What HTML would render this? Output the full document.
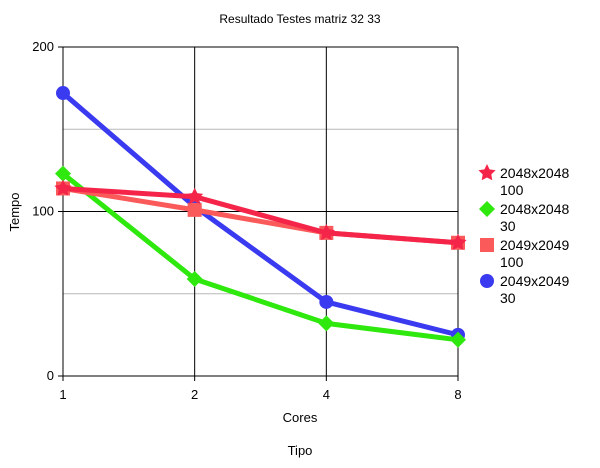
<!DOCTYPE html>
<html><head><meta charset="utf-8"><style>
body{margin:0;background:#fff;font-family:"Liberation Sans",Arial,sans-serif}
svg text{font-family:"Liberation Sans",Arial,sans-serif}
</style></head><body>
<svg id="c" width="600" height="463" xmlns="http://www.w3.org/2000/svg">
<rect width="600" height="463" fill="#fff"/>
<text x="300" y="23" font-size="12" text-anchor="middle">Resultado Testes matriz 32 33</text>
<text x="300" y="422" font-size="13" text-anchor="middle">Cores</text>
<text x="300" y="455" font-size="13" text-anchor="middle">Tipo</text>
<text x="19" y="212" font-size="13" text-anchor="middle" transform="rotate(-90 19 212)">Tempo</text>
<g id="grid"></g><g id="series"></g><g id="legend"></g>
</svg>
<script>
const categories=["1","2","4","8"];
const yTicks=[0,100,200];
const yMinor=[50,150];
const seriesNames=["2048x2048 100","2048x2048 30","2049x2049 100","2049x2049 30"];
const s1=[114,109,87,81];
const s2=[123,59,32,22];
const s3=[114,101,87,81];
const s4=[172,103,45,25];
const colors=["#f5254a","#2ee80e","#fb5a5a","#3a3af0"];
const NS="http://www.w3.org/2000/svg";
const X0=63,X1=458,Y0=376,Y1=47;
const xs=i=>X0+i*(X1-X0)/(categories.length-1);
const ys=v=>Y0-v*(Y0-Y1)/200;
function mk(t,a,p){const e=document.createElementNS(NS,t);for(const k in a)e.setAttribute(k,a[k]);p.appendChild(e);return e;}
const g=document.getElementById('grid');
yMinor.forEach(v=>{const l=mk('line',{x1:X0,x2:X1,y1:ys(v),y2:ys(v),stroke:'#b8b8b8','stroke-width':1},g);

});
yTicks.forEach(v=>{const l=mk('line',{x1:X0-5,x2:X1,y1:ys(v),y2:ys(v),stroke:'#000','stroke-width':1},g);


const t=mk('text',{x:X0-9,y:ys(v)+4,'font-size':13,'text-anchor':'end'},g);t.textContent=v;

});
categories.forEach((c,i)=>{const l=mk('line',{x1:xs(i),x2:xs(i),y1:Y1,y2:Y0+5,stroke:'#000','stroke-width':1},g);


const t=mk('text',{x:xs(i),y:Y0+23,'font-size':13,'text-anchor':'middle'},g);t.textContent=c;

});
function marker(type,x,y,col,p){
 let e;
 if(type==='star'){let pts=[];for(let k=0;k<10;k++){const r=k%2?4.5:9,a=-Math.PI/2+k*Math.PI/5;pts.push((x+r*Math.cos(a)).toFixed(1)+','+(y+r*Math.sin(a)).toFixed(1));}e=mk('polygon',{points:pts.join(' '),fill:col},p);}
 else if(type==='diamond'){e=mk('polygon',{points:`${x},${y-8} ${x+8},${y} ${x},${y+8} ${x-8},${y}`,fill:col},p);}
 else if(type==='square'){e=mk('rect',{x:x-7,y:y-7,width:14,height:14,fill:col},p);}
 else {e=mk('circle',{cx:x,cy:y,r:7,fill:col},p);}
 return e;
}
const data=[s1,s2,s3,s4],types=['star','diamond','square','circle'];
const sg=document.getElementById('series');
[3,1,2,0].forEach(si=>{
 const grp=mk('g',{},sg);
 
 
 const pl=mk('polyline',{points:data[si].map((v,i)=>xs(i)+','+ys(v)).join(' '),fill:'none',stroke:colors[si],'stroke-width':5,'stroke-linejoin':'round'},grp);
 
 
 data[si].forEach((v,i)=>{const m=marker(types[si],xs(i),ys(v),colors[si],grp);
 
 });
});
const lg=document.getElementById('legend');
seriesNames.forEach((n,i)=>{
 const y=173+i*36;
 const eg=mk('g',{},lg);
 
 
 marker(types[i],487,y,colors[i],eg);
 const parts=n.split(' ');
 const t1=mk('text',{x:500,y:y+5,'font-size':14},eg);t1.textContent=parts[0];
 const t2=mk('text',{x:500,y:y+22,'font-size':14},eg);t2.textContent=parts[1];
});
</script>
</body></html>
